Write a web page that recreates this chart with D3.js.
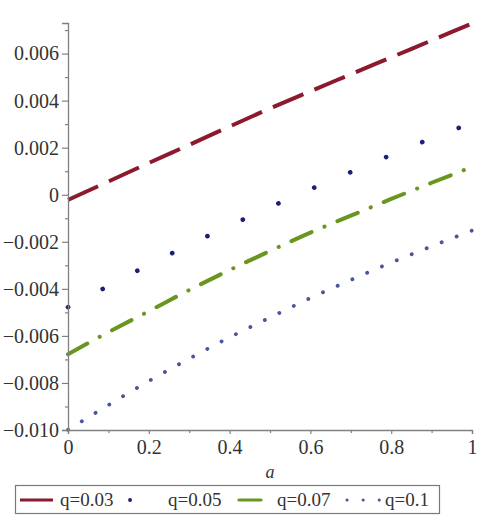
<!DOCTYPE html>
<html>
<head>
<meta charset="utf-8">
<script src="https://cdn.jsdelivr.net/npm/d3@7"></script>
<style>
  html, body { margin: 0; padding: 0; background: #fff; }
  svg { display: block; }
  svg text { font-family: "Liberation Serif", "Times New Roman", "DejaVu Serif", serif !important; }
</style>
</head>
<body>
<svg id="chart" width="483" height="528"></svg>
<script>
// ---- data ----
const aValues = [0, 0.1, 0.2, 0.3, 0.4, 0.5, 0.6, 0.7, 0.8, 0.9, 1.0];
const q003 = [-0.00022, 0.00056, 0.00135, 0.00212, 0.00290, 0.00367, 0.00440, 0.00512, 0.00584, 0.00656, 0.00728];
const q005 = [-0.00478, -0.00388, -0.00298, -0.00213, -0.00132, -0.00053, 0.00023, 0.00096, 0.00169, 0.00240, 0.00305];
const q007 = [-0.00678, -0.00584, -0.00495, -0.00405, -0.00320, -0.00239, -0.00161, -0.00089, -0.00018, 0.00051, 0.00118];
const q010 = [-0.00999, -0.00894, -0.00792, -0.00697, -0.00606, -0.00522, -0.00439, -0.00362, -0.00288, -0.00219, -0.00152];
const seriesNames = ["q=0.03", "q=0.05", "q=0.07", "q=0.1"];
const xTicks = [0, 0.2, 0.4, 0.6, 0.8, 1];
const xTickLabels = ["0", "0.2", "0.4", "0.6", "0.8", "1"];
const yTicks = [-0.010, -0.008, -0.006, -0.004, -0.002, 0, 0.002, 0.004, 0.006];
const yTickLabels = ["\u22120.010", "\u22120.008", "\u22120.006", "\u22120.004", "\u22120.002", "0", "0.002", "0.004", "0.006"];
const xLabel = "a";

// ---- styles ----
const styles = [
  { color: "#8b1a2e", width: 4, dash: "33 12", cap: "butt" },
  { color: "#1c1f7a", width: 4.6, dash: "0.1 39", cap: "round" },
  { color: "#6a961f", width: 4, dash: "22 14 0.1 14", cap: "round" },
  { color: "#4a5699", width: 3.8, dash: "0.1 16", cap: "round" }
];
const allSeries = [q003, q005, q007, q010];

const svg = d3.select("#chart");
const x = d3.scaleLinear().domain([0, 1]).range([68, 472]);
const y = d3.scaleLinear().domain([-0.010, 0.0073]).range([430, 23]);

const serif = "Liberation Serif, Times New Roman, DejaVu Serif, serif";
const axisColor = "#808080";
const textColor = "#333333";

// ---- series ----
const line = d3.line()
  .x((d, i) => x(aValues[i]))
  .y(d => y(d))
  .curve(d3.curveMonotoneX);

allSeries.forEach((s, k) => {
  svg.append("path")
    .attr("d", line(s))
    .attr("fill", "none")
    .attr("stroke", styles[k].color)
    .attr("stroke-width", styles[k].width)
    .attr("stroke-dasharray", styles[k].dash)
    .attr("stroke-linecap", styles[k].cap);
});

// ---- axes ----
const xAxis = d3.axisBottom(x)
  .tickValues(xTicks)
  .tickFormat((d, i) => xTickLabels[i])
  .tickSize(4)
  .tickPadding(6);
const gx = svg.append("g").attr("transform", `translate(0,${y(-0.010)})`).call(xAxis);
gx.attr("font-family", serif);
gx.select(".domain").attr("stroke", axisColor).attr("stroke-width", 1.3);
gx.selectAll(".tick line").attr("stroke", axisColor).attr("stroke-width", 1.2);
gx.selectAll(".tick text").attr("font-size", 20).attr("fill", textColor);

const xMinor = d3.axisBottom(x).tickValues(d3.range(0.1, 1, 0.2)).tickSize(3).tickFormat("");
const gxm = svg.append("g").attr("transform", `translate(0,${y(-0.010)})`).call(xMinor);
gxm.select(".domain").remove();
gxm.selectAll(".tick line").attr("stroke", axisColor).attr("stroke-width", 1.2);

const yAxis = d3.axisLeft(y)
  .tickValues(yTicks)
  .tickFormat((d, i) => yTickLabels[i])
  .tickSize(6)
  .tickPadding(3);
const gy = svg.append("g").attr("transform", `translate(${x(0)},0)`).call(yAxis);
gy.attr("font-family", serif);
gy.select(".domain").attr("stroke", axisColor).attr("stroke-width", 1.3);
gy.selectAll(".tick line").attr("stroke", axisColor).attr("stroke-width", 1.2);
gy.selectAll(".tick text").attr("font-size", 20).attr("fill", textColor);

const yMinor = d3.axisLeft(y).tickValues([-0.009, -0.007, -0.005, -0.003, -0.001, 0.001, 0.003, 0.005, 0.007]).tickSize(3).tickFormat("");
const gym = svg.append("g").attr("transform", `translate(${x(0)},0)`).call(yMinor);
gym.select(".domain").remove();
gym.selectAll(".tick line").attr("stroke", axisColor).attr("stroke-width", 1.2);

// axis title
svg.append("text")
  .attr("x", x(0.5))
  .attr("y", 478)
  .attr("text-anchor", "middle")
  .attr("font-style", "italic")
  .attr("font-size", 18)
  .attr("fill", textColor)
  .text(xLabel);

// ---- legend ----
const legend = svg.append("g");
legend.append("rect")
  .attr("x", 15.5).attr("y", 485.5)
  .attr("width", 424).attr("height", 28)
  .attr("fill", "#fff")
  .attr("stroke", "#7a7a7a")
  .attr("stroke-width", 1.2);

const legendTextX = [60, 168, 277, 385];
seriesNames.forEach((name, k) => {
  const tx = legendTextX[k];
  legend.append("line")
    .attr("x1", tx - 40 + (styles[k].cap === "round" ? 2 : 0))
    .attr("x2", tx - 5)
    .attr("y1", 500).attr("y2", 500)
    .attr("stroke", styles[k].color)
    .attr("stroke-width", styles[k].width - 0.8)
    .attr("stroke-dasharray", styles[k].dash)
    .attr("stroke-linecap", styles[k].cap);
  legend.append("text")
    .attr("x", tx)
    .attr("y", 506)
    .attr("font-size", 19)
    .attr("fill", textColor)
    .text(name);
});
</script>
</body>
</html>
